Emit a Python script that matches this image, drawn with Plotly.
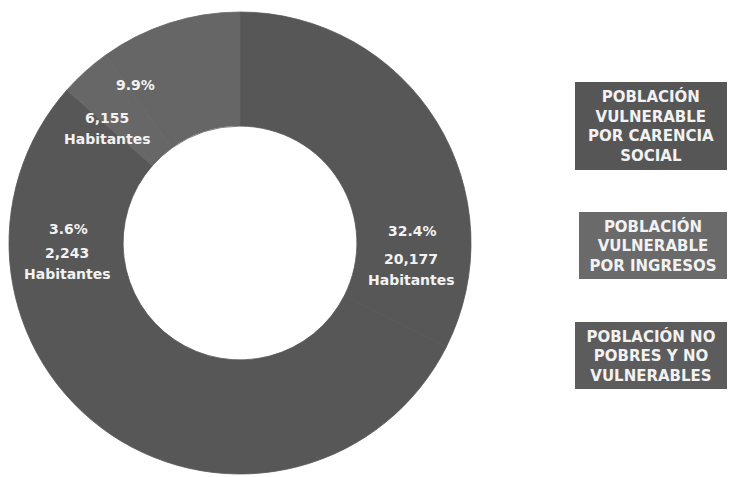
import plotly.graph_objects as go

# ---- data ----
categories = [
    "POBLACIÓN VULNERABLE POR CARENCIA SOCIAL",
    "POBLACIÓN EN POBREZA",
    "POBLACIÓN VULNERABLE POR INGRESOS",
    "POBLACIÓN NO POBRES Y NO VULNERABLES",
]
habitantes = [20177, 33680, 2243, 6155]          # second value estimated (unlabelled slice)
percent_labels = ["32.4%", None, "3.6%", "9.9%"]
legend_labels = [
    "POBLACIÓN<br>VULNERABLE<br>POR CARENCIA<br>SOCIAL",
    "POBLACIÓN<br>VULNERABLE<br>POR INGRESOS",
    "POBLACIÓN NO<br>POBRES Y NO<br>VULNERABLES",
]

# ---- styling ----
W, H = 729, 477
slice_colors = ["#575757", "#575757", "#676767", "#666666"]
box_colors = ["#565656", "#6a6a6a", "#5c5c5c"]
txt_color = "#f2f2f2"
FONT = "DejaVu Sans"

cx, cy, R = 240, 243, 231   # pixel centre / radius of donut


def px(x):
    return x / W


def py(y):
    return 1 - y / H


fig = go.Figure(
    go.Pie(
        labels=categories,
        values=habitantes,
        hole=0.506,
        sort=False,
        direction="clockwise",
        rotation=0,
        marker=dict(colors=slice_colors, line=dict(width=0.8, color=slice_colors)),
        textinfo="none",
        hoverinfo="label+value+percent",
        showlegend=False,
        domain=dict(x=[px(cx - R), px(cx + R)], y=[py(cy + R), py(cy - R)]),
    )
)

annotations = []
# label positions in pixels: (percent xy, number xy, "Habitantes" xy) per labelled slice
label_pos = {
    0: ((412, 231), (411, 259), (411, 280)),
    2: ((68, 229), (67, 253), (67, 274)),
    3: ((135, 85), (107, 118), (107, 139)),
}
for i, (p_xy, n_xy, h_xy) in label_pos.items():
    for text, (x, y) in (
        (percent_labels[i], p_xy),
        (f"{habitantes[i]:,}", n_xy),
        ("Habitantes", h_xy),
    ):
        annotations.append(
            dict(
                x=px(x), y=py(y), xref="paper", yref="paper",
                text=f"<b>{text}</b>", showarrow=False,
                font=dict(family=FONT, size=14, color=txt_color),
                xanchor="center", yanchor="middle",
            )
        )

# legend boxes (centre x, centre y, width, height)
box_geom = [(651, 126, 152, 88), (653, 245.5, 148, 67), (651, 355.5, 152, 67)]
for text, col, (x, y, w, h) in zip(legend_labels, box_colors, box_geom):
    annotations.append(
        dict(
            x=px(x), y=py(y), xref="paper", yref="paper",
            text=f"<b>{text}</b>", showarrow=False,
            font=dict(family=FONT, size=15, color=txt_color),
            xanchor="center", yanchor="middle", align="center", valign="middle",
            width=w, height=h, bgcolor=col, borderpad=0, borderwidth=0,
        )
    )

fig.update_layout(
    width=W, height=H,
    margin=dict(l=0, r=0, t=0, b=0),
    paper_bgcolor="white", plot_bgcolor="white",
    annotations=annotations,
    showlegend=False,
)

fig.write_html(
    "out.html",
    config={"displayModeBar": False},
    post_script="document.body.style.margin='0';document.body.style.overflow='hidden';",
)
